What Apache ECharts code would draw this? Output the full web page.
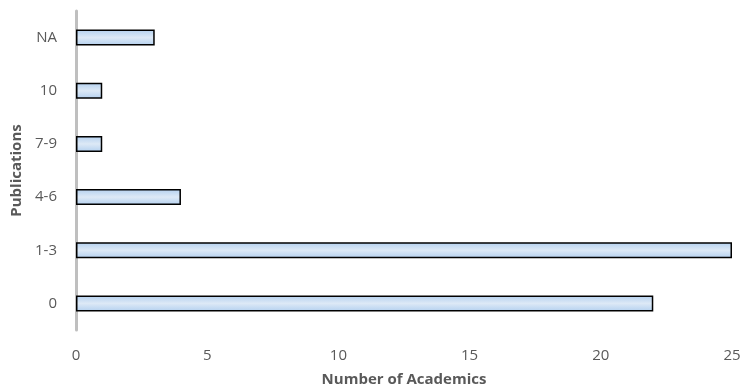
<!DOCTYPE html>
<html>
<head>
<meta charset="utf-8">
<script src="https://cdn.jsdelivr.net/npm/echarts@6/dist/echarts.min.js"></script>
<style>
  html, body { margin: 0; padding: 0; background: #fff; }
  #chart { width: 742px; height: 391px; }
</style>
</head>
<body>
<div id="chart"></div>
<script>
// Publication bands, listed bottom to top
const categories = ['0', '1-3', '4-6', '7-9', '10', 'NA'];
// Number of academics in each band
const academics = [22, 25, 4, 1, 1, 3];
const xTicks = [0, 5, 10, 15, 20, 25];

const font = '"Open Sans", sans-serif';
const chart = echarts.init(document.getElementById('chart'), null, { renderer: 'canvas' });

chart.setOption({
  animation: false,
  grid: { left: 76, right: 10, top: 11, bottom: 61, containLabel: false, outerBoundsMode: 'none' },
  xAxis: {
    type: 'value',
    min: xTicks[0],
    max: xTicks[xTicks.length - 1],
    interval: 5,
    name: 'Number of Academics',
    nameLocation: 'middle',
    nameGap: 42,
    nameTextStyle: { fontFamily: font, fontSize: 15, fontWeight: 'bold', color: '#595959' },
    axisLine: { show: false },
    axisTick: { show: false },
    splitLine: { show: false },
    axisLabel: { fontFamily: font, fontSize: 15, color: '#595959', margin: 18 }
  },
  yAxis: {
    type: 'category',
    data: categories,
    name: 'Publications',
    nameLocation: 'middle',
    nameGap: 51,
    nameRotate: 90,
    nameTextStyle: { fontFamily: font, fontSize: 15, fontWeight: 'bold', color: '#595959' },
    axisLine: { show: true, lineStyle: { color: '#bfbfbf', width: 3 } },
    axisTick: { show: false },
    axisLabel: { fontFamily: font, fontSize: 15, color: '#595959', margin: 19 }
  },
  series: [{
    type: 'bar',
    data: academics,
    barWidth: 16,
    itemStyle: {
      borderColor: '#000',
      borderWidth: 1.5,
      color: new echarts.graphic.LinearGradient(0, 0, 0, 1, [
        { offset: 0, color: '#b3d0ef' },
        { offset: 0.5, color: '#dde9f6' },
        { offset: 1, color: '#b3d0ef' }
      ])
    }
  }]
});
</script>
</body>
</html>
